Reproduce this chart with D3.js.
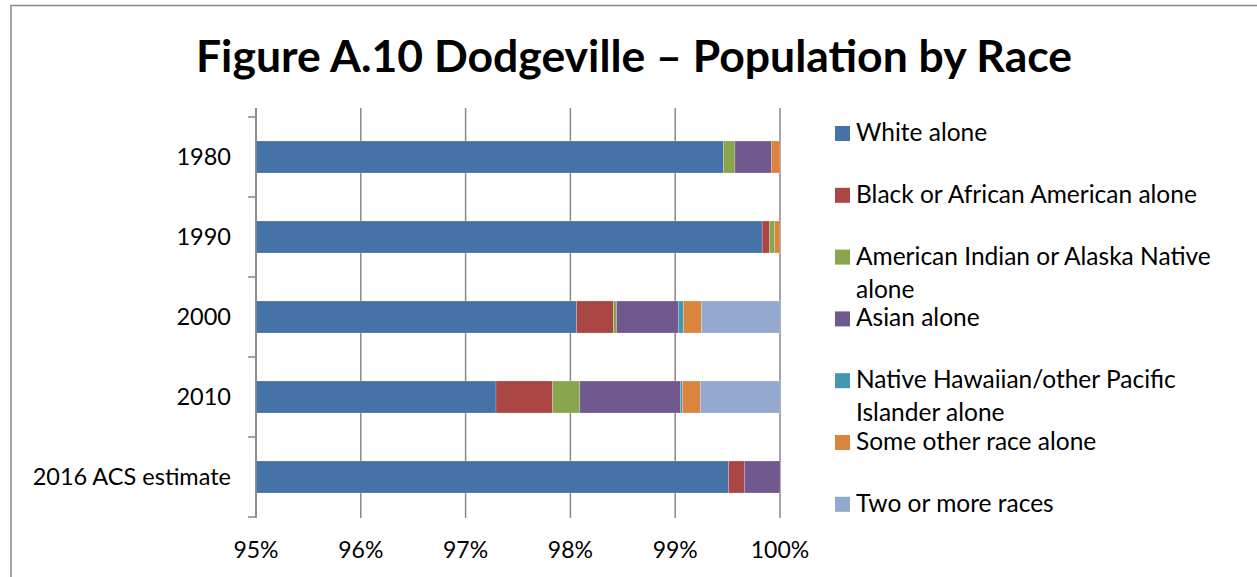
<!DOCTYPE html>
<html>
<head>
<meta charset="utf-8">
<script src="https://cdn.jsdelivr.net/npm/d3@7"></script>
<style>
  html, body { margin: 0; padding: 0; background: #fff; }
  svg { display: block; }
  text { font-family: Lato, "Noto Sans", sans-serif; fill: #000; }
</style>
</head>
<body>
<svg id="chart" width="1257" height="577"></svg>
<script>
// Census years / estimate shown on the category axis
const categories = ["1980", "1990", "2000", "2010", "2016 ACS estimate"];

// Race groups, in stacking order
const seriesNames = [
  "White alone",
  "Black or African American alone",
  "American Indian or Alaska Native alone",
  "Asian alone",
  "Native Hawaiian/other Pacific Islander alone",
  "Some other race alone",
  "Two or more races"
];

// Share of population (%) per category, one array per race group
const whiteAlone     = [99.46, 99.83, 98.06, 97.29, 99.51];
const blackAlone     = [0.00, 0.07, 0.35, 0.54, 0.15];
const amIndianAlone  = [0.11, 0.05, 0.03, 0.26, 0.00];
const asianAlone     = [0.35, 0.00, 0.59, 0.96, 0.34];
const hawaiianAlone  = [0.00, 0.00, 0.05, 0.02, 0.00];
const otherRaceAlone = [0.08, 0.05, 0.17, 0.17, 0.00];
const twoOrMore      = [0.00, 0.00, 0.75, 0.76, 0.00];

// Value axis tick labels
const tickValues = [95, 96, 97, 98, 99, 100];

const seriesValues = [whiteAlone, blackAlone, amIndianAlone, asianAlone,
                      hawaiianAlone, otherRaceAlone, twoOrMore];
const colors = ["#4572A7", "#AA4643", "#89A54E", "#71588F", "#4198AF", "#DB843D", "#93A9CF"];

const rows = categories.map((c, i) => {
  const r = { category: c };
  seriesNames.forEach((s, k) => { r[s] = seriesValues[k][i]; });
  return r;
});

const svg = d3.select("#chart");

// Outer chart frame
svg.append("path")
  .attr("d", "M11,577 V5.5 H1257")
  .attr("fill", "none")
  .attr("stroke", "#878787")
  .attr("stroke-width", 1.5);

// Title
svg.append("text")
  .attr("x", 634)
  .attr("y", 72)
  .attr("text-anchor", "middle")
  .attr("font-size", 44.5)
  .attr("font-weight", 700)
  .text("Figure A.10 Dodgeville \u2013 Population by Race");

const x = d3.scaleLinear().domain([95, 100]).range([256, 780]).clamp(true);
const y = d3.scaleBand().domain(categories).range([117, 517])
  .paddingInner(0.6).paddingOuter(0.3);

// Vertical gridlines
svg.append("g")
  .selectAll("line")
  .data(tickValues)
  .join("line")
  .attr("x1", d => x(d)).attr("x2", d => x(d))
  .attr("y1", 108).attr("y2", 518)
  .attr("stroke", "#878787")
  .attr("stroke-width", 1.5);

// Stacked bars
const stack = d3.stack().keys(seriesNames)(rows);
svg.append("g")
  .selectAll("g")
  .data(stack)
  .join("g")
  .attr("fill", (d, i) => colors[i])
  .selectAll("rect")
  .data(d => d)
  .join("rect")
  .attr("x", d => x(d[0]))
  .attr("width", d => Math.max(0, x(d[1]) - x(d[0])))
  .attr("y", d => y(d.data.category))
  .attr("height", y.bandwidth())
  .attr("stroke", "rgba(255,255,255,0.35)")
  .attr("stroke-width", 0.6);

// Category axis line and tick marks at band boundaries
const bandEdges = d3.range(categories.length + 1).map(i => 117 + i * y.step());
svg.append("line")
  .attr("x1", 256).attr("x2", 256)
  .attr("y1", 108).attr("y2", 518)
  .attr("stroke", "#878787").attr("stroke-width", 1.5);
svg.append("g")
  .selectAll("line")
  .data(bandEdges)
  .join("line")
  .attr("x1", 248).attr("x2", 256)
  .attr("y1", d => d).attr("y2", d => d)
  .attr("stroke", "#878787").attr("stroke-width", 1.5);

// Category labels
svg.append("g")
  .selectAll("text")
  .data(categories)
  .join("text")
  .attr("x", 231)
  .attr("y", d => y(d) + y.bandwidth() / 2 + 8)
  .attr("text-anchor", "end")
  .attr("font-size", 23.5)
  .text(d => d);

// Value axis labels
svg.append("g")
  .selectAll("text")
  .data(tickValues)
  .join("text")
  .attr("x", d => x(d))
  .attr("y", 558)
  .attr("text-anchor", "middle")
  .attr("font-size", 23)
  .text(d => d + "%");

// Legend
const legendLines = [
  ["White alone"],
  ["Black or African American alone"],
  ["American Indian or Alaska Native", "alone"],
  ["Asian alone"],
  ["Native Hawaiian/other Pacific", "Islander alone"],
  ["Some other race alone"],
  ["Two or more races"]
];
const legend = svg.append("g");
const item = legend.selectAll("g")
  .data(seriesNames)
  .join("g")
  .attr("transform", (d, i) => `translate(835, ${141 + i * 61.8})`);
item.append("rect")
  .attr("x", 0).attr("y", -15)
  .attr("width", 15).attr("height", 15)
  .attr("fill", (d, i) => colors[i]);
item.append("text")
  .attr("font-size", 24.5)
  .selectAll("tspan")
  .data((d, i) => legendLines[i])
  .join("tspan")
  .attr("x", 21)
  .attr("y", (d, j) => j * 33)
  .text(d => d);
</script>
</body>
</html>
